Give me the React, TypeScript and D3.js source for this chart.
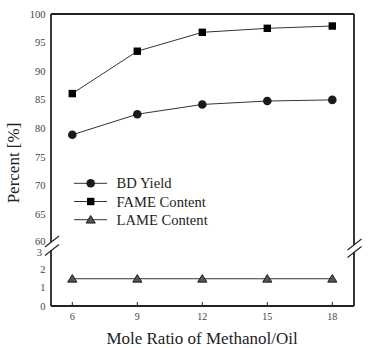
import * as d3 from 'd3';

const ratios = [6, 9, 12, 15, 18];
const bdYield = [78.9, 82.5, 84.2, 84.8, 85.0];
const fameContent = [86.1, 93.5, 96.8, 97.5, 97.9];
const lameContent = [1.5, 1.5, 1.5, 1.5, 1.5];

const upperTicks = [60, 65, 70, 75, 80, 85, 90, 95, 100];
const lowerTicks = [0, 1, 2, 3];
const legendItems = ['BD Yield', 'FAME Content', 'LAME Content'];

const W = 368;
const H = 348;
const left = 51;
const right = 354;
const top = 14;
const bottom = 306;

const x = d3.scaleLinear().domain([6, 18]).range([72.3, 332.3]);
const yTop = d3.scaleLinear().domain([60, 100]).range([243, top]);
const yBot = d3.scaleLinear().domain([0, 3]).range([bottom, 251.5]);

const serif = { fontFamily: "'Liberation Serif', 'DejaVu Serif', serif" };
const ink = '#222';

const lineTop = d3.line<number>().x((_, i) => x(ratios[i])).y(d => yTop(d));
const lineBot = d3.line<number>().x((_, i) => x(ratios[i])).y(d => yBot(d));

const Circle = ({ cx, cy }: { cx: number; cy: number }) => (
  <circle cx={cx} cy={cy} r={4.3} fill="#1a1a1a" />
);
const Square = ({ cx, cy }: { cx: number; cy: number }) => (
  <rect x={cx - 3.7} y={cy - 3.7} width={7.4} height={7.4} fill="#000" />
);
const Tri = ({ cx, cy }: { cx: number; cy: number }) => (
  <path
    d={`M${cx},${cy - 4.2}L${cx + 4.6},${cy + 3.4}L${cx - 4.6},${cy + 3.4}Z`}
    fill="#555"
    stroke="#111"
    strokeWidth={0.9}
  />
);

// pair of slashes marking the axis break
const Break = ({ ax, y1, y2 }: { ax: number; y1: number; y2: number }) => (
  <g stroke={ink} strokeWidth={1.1}>
    <line x1={ax - 7} y1={y1 + 5.5} x2={ax + 7} y2={y1 - 5.5} />
    <line x1={ax - 7} y1={y2 + 5.5} x2={ax + 7} y2={y2 - 5.5} />
  </g>
);

export default function App() {
  const markers = [Circle, Square, Tri];
  return (
    <svg
      width={W}
      height={H}
      style={{ position: 'absolute', left: 0, top: 0, background: '#fff' }}
    >
      {/* frame */}
      <g stroke={ink} strokeWidth={1.8} fill="none">
        <line x1={left} y1={top} x2={right} y2={top} />
        <line x1={left} y1={top} x2={left} y2={242} />
        <line x1={left} y1={250} x2={left} y2={bottom} />
        <line x1={right} y1={top} x2={right} y2={245} />
        <line x1={right} y1={252} x2={right} y2={bottom} />
        <line x1={left} y1={bottom} x2={right} y2={bottom} />
      </g>
      <Break ax={52} y1={241.5} y2={250} />
      <Break ax={354.5} y1={244.5} y2={252} />

      {/* x ticks */}
      {ratios.map(r => (
        <g key={r}>
          <line x1={x(r)} x2={x(r)} y1={bottom} y2={bottom - 4} stroke={ink} strokeWidth={1} />
          <text x={x(r)} y={320} textAnchor="middle" fontSize={10} fill="#444" style={serif}>
            {r}
          </text>
        </g>
      ))}

      {/* y tick labels */}
      {upperTicks.map(t => (
        <text key={'u' + t} x={45.5} y={yTop(t) + (t === 60 ? 2 : 3.5)} textAnchor="end" fontSize={10.5} fill="#444" style={serif}>
          {t}
        </text>
      ))}
      {lowerTicks.map(t => (
        <text key={'l' + t} x={t === 3 ? 42 : 45.5} y={yBot(t) + (t === 3 ? 4.5 : 3.5)} textAnchor="end" fontSize={10.5} fill="#444" style={serif}>
          {t}
        </text>
      ))}

      {/* series */}
      <path d={lineTop(fameContent) ?? ''} fill="none" stroke="#333" strokeWidth={1} />
      <path d={lineTop(bdYield) ?? ''} fill="none" stroke="#333" strokeWidth={1} />
      <path d={lineBot(lameContent) ?? ''} fill="none" stroke="#333" strokeWidth={1} />
      {ratios.map((r, i) => (
        <g key={r}>
          <Square cx={x(r)} cy={yTop(fameContent[i])} />
          <Circle cx={x(r)} cy={yTop(bdYield[i])} />
          <Tri cx={x(r)} cy={yBot(lameContent[i])} />
        </g>
      ))}

      {/* legend */}
      {legendItems.map((name, i) => {
        const ly = 183.3 + i * 18.2;
        const M = markers[i];
        return (
          <g key={name}>
            <line x1={74} x2={107} y1={ly} y2={ly} stroke="#333" strokeWidth={1} />
            <M cx={90.7} cy={ly} />
            <text x={116.5} y={ly + 5} fontSize={14.6} fill="#222" style={serif}>
              {name}
            </text>
          </g>
        );
      })}

      {/* axis titles */}
      <text x={202} y={344} textAnchor="middle" fontSize={17} fill="#222" style={serif}>
        Mole Ratio of Methanol/Oil
      </text>
      <text
        transform="translate(19,163) rotate(-90)"
        textAnchor="middle"
        fontSize={17}
        fill="#222"
        style={serif}
      >
        Percent [%]
      </text>
    </svg>
  );
}
